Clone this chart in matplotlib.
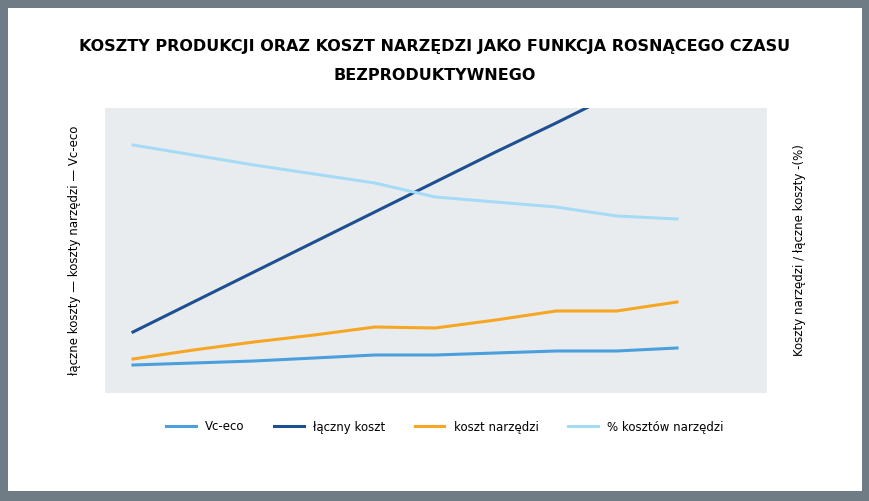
import matplotlib.pyplot as plt
from matplotlib.patches import Rectangle
import numpy as np

x = np.arange(10)
vc_eco = [35, 37, 39, 42, 45, 45, 47, 49, 49, 52]
laczny = [68, 98, 128, 158, 188, 218, 248, 277, 307, 337]
koszt_narz = [41, 50, 58, 65, 73, 72, 80, 89, 89, 98]
procent = [255, 245, 235, 226, 217, 203, 198, 193, 184, 181]

labels = ["Vc-eco", "łączny koszt", "koszt narzędzi", "% kosztów narzędzi"]
colors = ["#4a9fdc", "#1d4f91", "#f6a623", "#a6dbf6"]

fig = plt.figure(figsize=(8.7, 5.01), dpi=100, facecolor="#6f7b85")
bg = fig.add_axes([8 / 870, 10 / 501, 854 / 870, 483 / 501], zorder=0)
bg.set_facecolor("white")
bg.axis("off")
bg.add_patch(Rectangle((0, 0), 1, 1, transform=bg.transAxes, facecolor="white", edgecolor="none"))

ax = fig.add_axes([105 / 870, 108 / 501, 662 / 870, 285 / 501], zorder=2)
ax.set_facecolor("#e9ecef")
for s, lab, c in zip([vc_eco, laczny, koszt_narz, procent], labels, colors):
    ax.plot(x, s, color=c, linewidth=2.2, label=lab)

ax.set_xlim(-28 / 60.44, 9 + 90 / 60.44)
ax.set_ylim(7, 292)
ax.set_xticks([])
ax.set_yticks([])
for sp in ax.spines.values():
    sp.set_visible(False)

fig.text(0.5, 1 - 47 / 501, "KOSZTY PRODUKCJI ORAZ KOSZT NARZĘDZI JAKO FUNKCJA ROSNĄCEGO CZASU",
         ha="center", va="center", fontsize=11.5, fontweight="bold", zorder=3)
fig.text(0.5, 1 - 75 / 501, "BEZPRODUKTYWNEGO",
         ha="center", va="center", fontsize=11.5, fontweight="bold", zorder=3)

fig.text(75 / 870, 1 - 250 / 501, "łączne koszty — koszty narzędzi — Vc-eco",
         rotation=90, ha="center", va="center", fontsize=8.5, zorder=3)
fig.text(800 / 870, 1 - 250 / 501, "Koszty narzędzi / łączne koszty -(%)",
         rotation=90, ha="center", va="center", fontsize=8.5, zorder=3)

leg = fig.legend(loc="center", bbox_to_anchor=(445 / 870, 1 - 427 / 501), ncol=4,
                 frameon=False, fontsize=8.5, handlelength=2.5, columnspacing=2.5)
leg.set_zorder(3)

fig.savefig("out.png", dpi=100, facecolor=fig.get_facecolor())
